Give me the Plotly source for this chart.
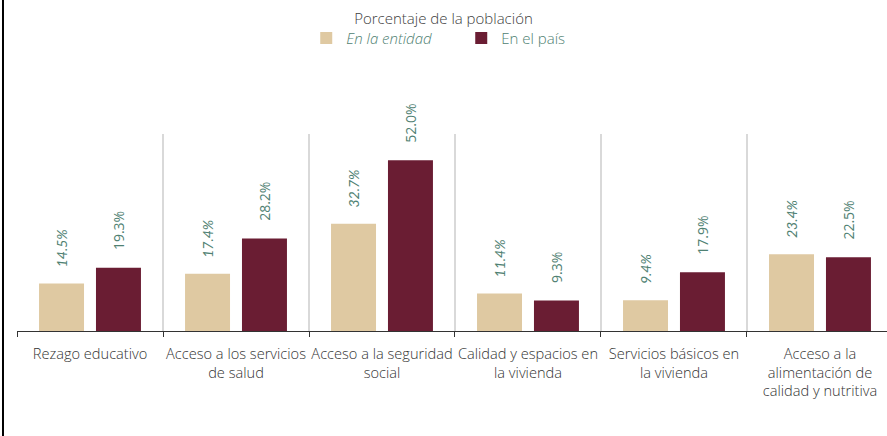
import plotly.graph_objects as go

categories = [
    "Rezago educativo",
    "Acceso a los servicios<br>de salud",
    "Acceso a la seguridad<br>social",
    "Calidad y espacios en<br>la vivienda",
    "Servicios básicos en<br>la vivienda",
    "Acceso a la<br>alimentación de<br>calidad y nutritiva",
]
entidad = [14.5, 17.4, 32.7, 11.4, 9.4, 23.4]
pais = [19.3, 28.2, 52.0, 9.3, 17.9, 22.5]

label_color = "#4f8172"
font_family = "'Open Sans', Lato, sans-serif"
label_family = "Lato, 'Open Sans', sans-serif"
pad = "\u00a0\u00a0\u00a0\u00a0"

fig = go.Figure()
fig.add_trace(go.Bar(
    name="<i>En la entidad</i>", x=categories, y=entidad,
    marker=dict(color="#dfc9a2", line=dict(width=0)),
    text=[f"<i>{pad}{v:.1f}%</i>" for v in entidad],
    textposition="outside", textangle=-90, cliponaxis=False, constraintext="none",
    textfont=dict(color=label_color, size=14, family=label_family),
))
fig.add_trace(go.Bar(
    name="En el país", x=categories, y=pais,
    marker=dict(color="#6a1d33", line=dict(width=0)),
    text=[f"{pad}{v:.1f}%" for v in pais],
    textposition="outside", textangle=-90, cliponaxis=False, constraintext="none",
    textfont=dict(color=label_color, size=14, family=font_family),
))

fig.update_layout(
    width=887, height=436,
    margin=dict(l=17, r=0, t=134, b=105),
    paper_bgcolor="white", plot_bgcolor="white",
    barmode="group", bargap=0.22, bargroupgap=0.21,
    font=dict(family=font_family, size=13, color="#333333"),
    title=dict(text="Porcentaje de la población", x=0.5, xanchor="center",
               y=0.958, yanchor="middle",
               font=dict(size=15, color="#404040", family=font_family, weight=300)),
    showlegend=True,
    legend=dict(orientation="h", x=0.52, xanchor="center", y=0.912, yanchor="middle",
                yref="container", xref="container",
                font=dict(size=15, color=label_color, family=font_family, weight=300),
                entrywidth=110, entrywidthmode="pixels",
                bgcolor="rgba(0,0,0,0)", itemclick=False),
    xaxis=dict(
        type="category", range=[-0.5, 5.459], automargin=False,
        showline=True, linecolor="#333333", linewidth=1,
        ticks="outside", tickson="boundaries", ticklen=5, tickcolor="#333333",
        showgrid=True, gridcolor="#d9d9d9", gridwidth=2, tickangle=0,
        tickfont=dict(size=14.6, color="#333333", family=font_family, weight=300),
        ticklabelstandoff=9,
    ),
    yaxis=dict(range=[0, 60], visible=False, showgrid=False, zeroline=False,
               automargin=False),
    shapes=[dict(type="line", xref="paper", yref="paper",
                 x0=-0.0161, x1=-0.0161, y0=-0.54, y1=1.69,
                 line=dict(color="black", width=2))],
)

fig.write_html("out.html", config={"displayModeBar": False},
               post_script="document.body.style.margin='0';")
